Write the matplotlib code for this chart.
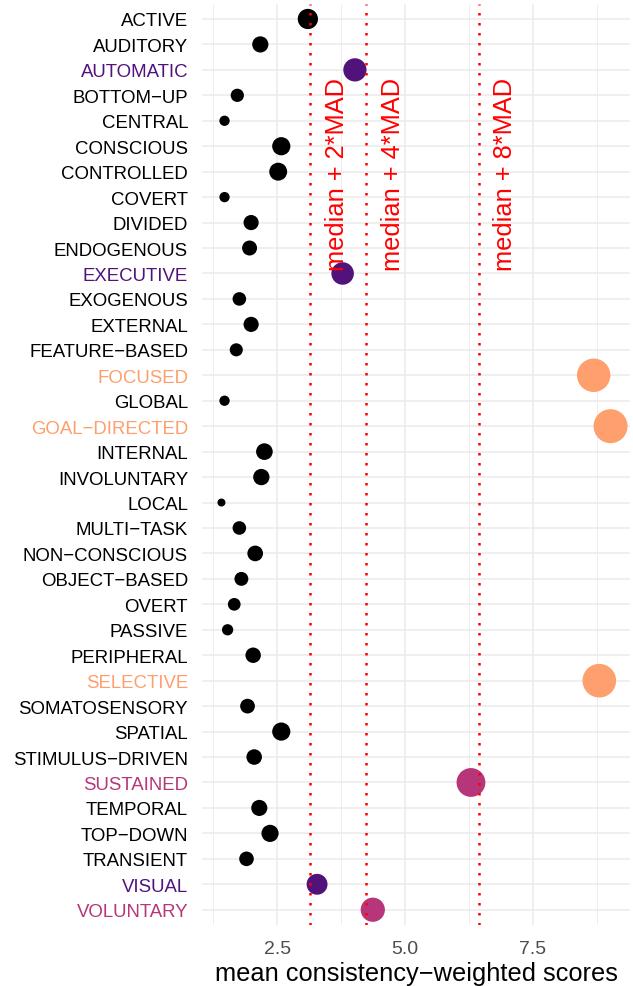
import numpy as np
import matplotlib
matplotlib.use("Agg")
import matplotlib.pyplot as plt

plt.rcParams['font.family'] = ['Liberation Sans', 'DejaVu Sans']

# attention terms and their mean consistency-weighted scores
terms = ['ACTIVE', 'AUDITORY', 'AUTOMATIC', 'BOTTOM\u2212UP', 'CENTRAL', 'CONSCIOUS',
         'CONTROLLED', 'COVERT', 'DIVIDED', 'ENDOGENOUS', 'EXECUTIVE', 'EXOGENOUS',
         'EXTERNAL', 'FEATURE\u2212BASED', 'FOCUSED', 'GLOBAL', 'GOAL\u2212DIRECTED',
         'INTERNAL', 'INVOLUNTARY', 'LOCAL', 'MULTI\u2212TASK', 'NON\u2212CONSCIOUS',
         'OBJECT\u2212BASED', 'OVERT', 'PASSIVE', 'PERIPHERAL', 'SELECTIVE',
         'SOMATOSENSORY', 'SPATIAL', 'STIMULUS\u2212DRIVEN', 'SUSTAINED', 'TEMPORAL',
         'TOP\u2212DOWN', 'TRANSIENT', 'VISUAL', 'VOLUNTARY']
scores = [3.10, 2.17, 4.02, 1.72, 1.47, 2.58,
          2.52, 1.47, 1.99, 1.96, 3.78, 1.76,
          1.99, 1.70, 8.69, 1.47, 9.02,
          2.25, 2.19, 1.41, 1.76, 2.07,
          1.80, 1.66, 1.53, 2.03, 8.80,
          1.92, 2.58, 2.05, 6.29, 2.15,
          2.36, 1.90, 3.28, 4.37]

median_score = 2.05
mad_score = 0.549
mad_steps = [2, 4, 8]

level_colors = ['black', '#51127C', '#B63679', '#FE9F6D']

scores = np.array(scores)
cutoffs = [median_score + k * mad_score for k in mad_steps]
levels = np.array([sum(s > c for c in cutoffs) for s in scores])
colors = [level_colors[l] for l in levels]

# point size grows with the score (area scale)
t = (scores - scores.min()) / (scores.max() - scores.min())
diam_px = 8 + 26 * np.sqrt(t)
sizes = (diam_px * 0.72) ** 2

fig = plt.figure(figsize=(6.33, 9.87), dpi=100)
ax = fig.add_axes([202 / 633, 1 - 926 / 987, 428 / 633, 921.3 / 987])

ypos = np.arange(len(terms))
ax.scatter(scores, ypos, s=sizes, c=colors, linewidths=0, zorder=3)

for k, c in zip(mad_steps, cutoffs):
    ax.axvline(c, color='red', lw=1.8, linestyle=(0, (1, 3)), zorder=4)
    ax.annotate('median + %d*MAD' % k, xy=(c, 9.85), xytext=(19, 0),
                textcoords='offset points', rotation=90, ha='center', va='bottom',
                color='red', fontsize=18.3, zorder=5)

span = scores.max() - scores.min()
ax.set_xlim(scores.min() - 0.05 * span, scores.max() + 0.05 * span)
ax.set_ylim(len(terms) - 0.4, -0.6)

ax.set_yticks(ypos)
ax.set_yticklabels(terms, fontsize=13.4)
for lab, col in zip(ax.get_yticklabels(), colors):
    lab.set_color(col)

ax.set_xticks([2.5, 5.0, 7.5])
ax.set_xticklabels(['2.5', '5.0', '7.5'], fontsize=14, color='#4D4D4D')
ax.set_xticks([1.25, 3.75, 6.25, 8.75], minor=True)

ax.tick_params(axis='both', which='both', length=0)
ax.tick_params(axis='y', pad=10)
ax.tick_params(axis='x', pad=11)

ax.grid(which='major', color='#EBEBEB', lw=1.1, zorder=0)
ax.grid(which='minor', axis='x', color='#EBEBEB', lw=0.6, zorder=0)
ax.set_axisbelow(True)
for sp in ax.spines.values():
    sp.set_visible(False)

ax.set_xlabel('mean consistency\u2212weighted scores', fontsize=18.3)
ax.xaxis.set_label_coords(0.5, -55 / 921.3)
ax.xaxis.label.set_va('baseline')

fig.savefig('out.png', dpi=100)
